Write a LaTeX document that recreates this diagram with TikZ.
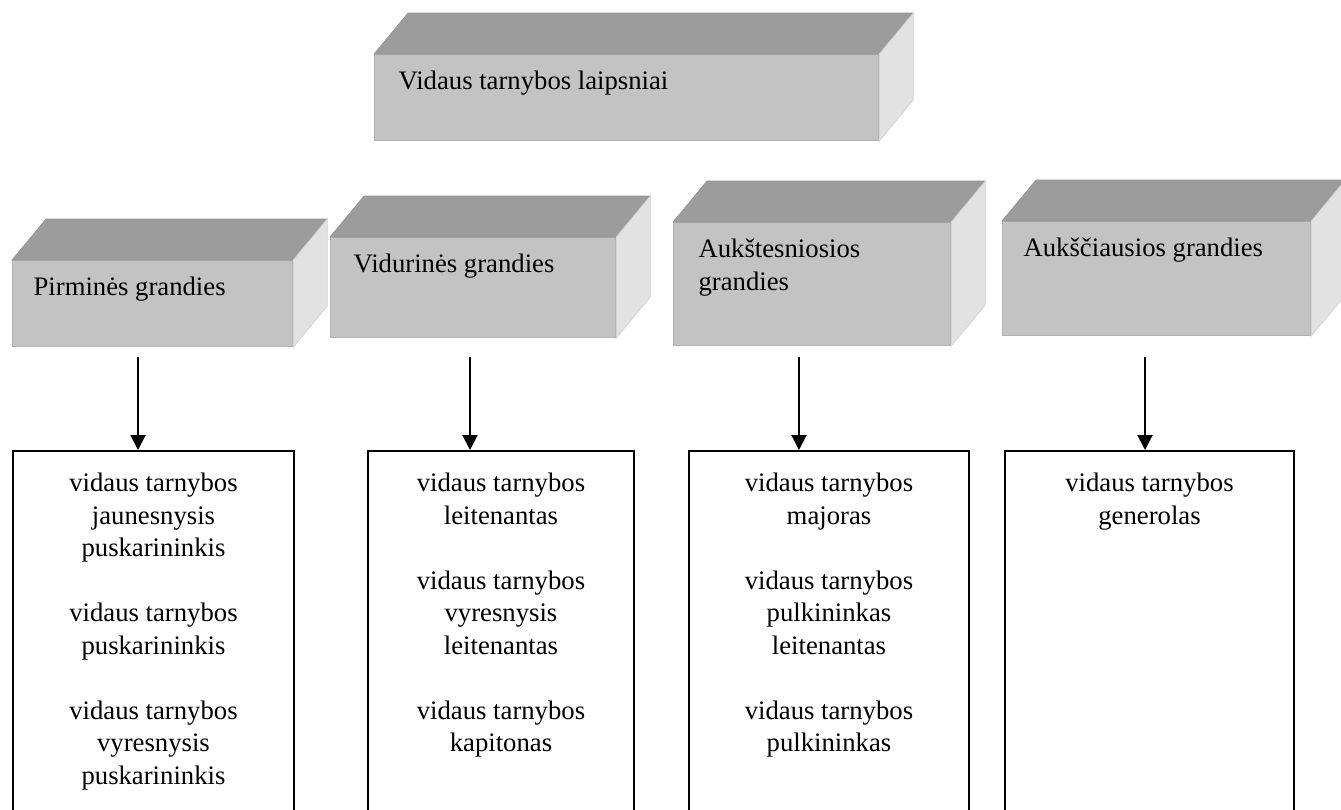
\documentclass[tikz,border=0pt]{standalone}
\usepackage{fontspec}
\setmainfont{Liberation Serif}
\usetikzlibrary{arrows.meta,calc}

\definecolor{topgray}{HTML}{9C9C9C}
\definecolor{frontgray}{HTML}{C3C3C3}
\definecolor{sidegray}{HTML}{E2E2E2}
\definecolor{edgegray}{HTML}{B2B2B2}

\newcommand{\depthx}{34}
\newcommand{\depthy}{41}

\begin{document}
\begin{tikzpicture}[x=1pt, y=-1pt,
  frontface/.style={fill=frontgray, draw=edgegray, line width=1.2pt, inner sep=0pt,
    font=\fontsize{26.7}{33}\selectfont},
  topface/.style={fill=topgray, draw=topgray!95!black, line width=0.6pt},
  sideface/.style={fill=sidegray, draw=sidegray!92!black, line width=0.6pt},
  rankbox/.style={draw=black, line width=2pt, fill=white, inner sep=0pt, anchor=north west},
  ranktext/.style={font=\fontsize{26.7}{32.5}\selectfont},
  arr/.style={line width=2pt, -{Triangle[length=15pt, width=15pt]}}]

\useasboundingbox (0,0) rectangle (1341,809);
\clip (0,0) rectangle (1341,809);

% ---------- shaded blocks ----------
\foreach \nm/\xa/\ya/\bw/\bh/\txt/\ind in {
    top/374/54/504/86/{Vidaus tarnybos laipsniai}/24,
    g1/12/260/280/86/{Pirminės grandies}/21,
    g2/330/237/285/100/{Vidurinės grandies}/23,
    g3/673/222/277/123/{Aukštesniosios\\grandies}/25,
    g4/1002/221/308/114/{Aukščiausios grandies}/21}{
  \node[frontface, anchor=north west] (\nm) at (\xa,\ya)
    {\parbox[t][\bh pt][t]{\bw pt}{\raggedright\leftskip=\ind pt\rule{0pt}{35pt}\txt}};
  \filldraw[topface] (\nm.north west) -- ++(\depthx,-\depthy) -- ($(\nm.north east)+(\depthx,-\depthy)$) -- (\nm.north east) -- cycle;
  \filldraw[sideface] (\nm.north east) -- ++(\depthx,-\depthy) -- ($(\nm.south east)+(\depthx,-\depthy)$) -- (\nm.south east) -- cycle;
}

% ---------- rank lists ----------
\node[rankbox, minimum width=281pt, minimum height=420pt] (r1) at (12,450) {};
\node[rankbox, minimum width=266pt, minimum height=420pt] (r2) at (367,450) {};
\node[rankbox, minimum width=280pt, minimum height=420pt] (r3) at (688,450) {};
\node[rankbox, minimum width=289pt, minimum height=420pt] (r4) at (1004,450) {};

\node[ranktext, anchor=north, inner sep=0pt] (t1) at ($(r1.north)+(0,14)$)
  {\parbox[t]{270pt}{\centering\rule{0pt}{27.5pt}vidaus tarnybos\\jaunesnysis\\puskarininkis\\[32.5pt]vidaus tarnybos\\puskarininkis\\[32.5pt]vidaus tarnybos\\vyresnysis\\puskarininkis}};
\node[ranktext, anchor=north, inner sep=0pt] (t2) at ($(r2.north)+(0,14)$)
  {\parbox[t]{260pt}{\centering\rule{0pt}{27.5pt}vidaus tarnybos\\leitenantas\\[32.5pt]vidaus tarnybos\\vyresnysis\\leitenantas\\[32.5pt]vidaus tarnybos\\kapitonas}};
\node[ranktext, anchor=north, inner sep=0pt] (t3) at ($(r3.north)+(0,14)$)
  {\parbox[t]{270pt}{\centering\rule{0pt}{27.5pt}vidaus tarnybos\\majoras\\[32.5pt]vidaus tarnybos\\pulkininkas\\leitenantas\\[32.5pt]vidaus tarnybos\\pulkininkas}};
\node[ranktext, anchor=north, inner sep=0pt] (t4) at ($(r4.north)+(0,14)$)
  {\parbox[t]{280pt}{\centering\rule{0pt}{27.5pt}vidaus tarnybos\\generolas}};

% ---------- arrows ----------
\coordinate (a1) at (138,357);
\coordinate (a2) at (470,357);
\coordinate (a3) at (799,357);
\coordinate (a4) at (1145,357);
\draw[arr] (a1) -- (a1 |- r1.north);
\draw[arr] (a2) -- (a2 |- r2.north);
\draw[arr] (a3) -- (a3 |- r3.north);
\draw[arr] (a4) -- (a4 |- r4.north);
\end{tikzpicture}
\end{document}
